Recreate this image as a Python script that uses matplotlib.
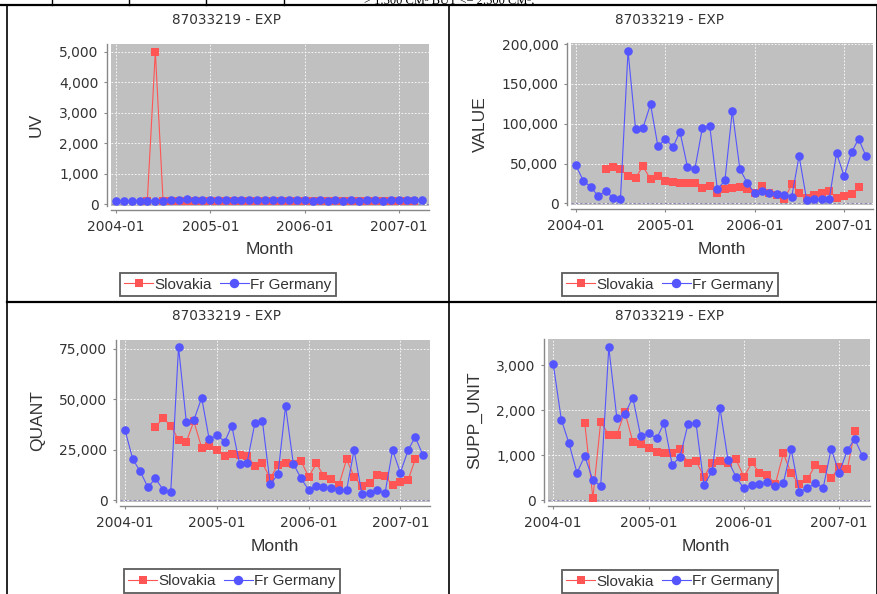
import numpy as np
import pandas as pd
import matplotlib
matplotlib.use("Agg")
import matplotlib.pyplot as plt
import matplotlib.dates as mdates
from matplotlib.ticker import FuncFormatter, FixedLocator

W, H = 878, 594

# ---------------------------------------------------------------------------
# data
# ---------------------------------------------------------------------------
months = pd.date_range("2004-01-01", periods=40, freq="MS")
series_names = ["Slovakia", "Fr Germany"]
chart_title = "87033219 - EXP"
header_text = "> 1.500 CM³ BUT <= 2.500 CM³;"
nan = np.nan

uv_slovakia = [nan, nan, nan, nan, 120, 5000, 120, 110, 110, 115, 110, 105, 110, 105,
               110, 110, 105, 100, 105, 100, 100, 105, 100, 100, 95, 100, 95, 95,
               90, 100, 95, 90, 95, 95, 100, 90, 95, 100, 105, nan]
uv_germany = [100, 110, 100, 105, 110, 115, 120, 150, 150, 155, 150, 140, 145, 140,
              150, 145, 140, 150, 145, 130, 140, 150, 140, 130, 125, 120, 125, 120,
              125, 120, 140, 120, 125, 125, 120, 140, 145, 150, 150, 145]

value_slovakia = [nan, nan, nan, nan, 42700, 46000, 43000, 34400, 32500, 46500, 30500,
                  35000, 28500, 26500, 25500, 25500, 25500, 19700, 22000, 13000, 18500,
                  19500, 20500, 17600, 12600, 21800, 13400, 10000, 5000, 23900, 13400,
                  7100, 10500, 13400, 15500, 7100, 9200, 11300, 20500, nan]
value_germany = [47800, 28000, 21000, 9200, 15500, 7100, 5000, 191500, 93000, 95000,
                 124500, 72000, 81000, 71000, 90000, 46000, 43000, 95000, 97000, 17600,
                 29000, 116000, 43000, 26000, 12600, 16000, 13400, 12000, 11000, 8400,
                 59500, 4200, 5000, 5900, 5000, 63000, 34400, 64500, 81000, 59000]

quant_slovakia = [nan, nan, nan, nan, 36400, 40500, 36900, 29800, 28900, 39000, 26000,
                  27000, 24800, 21800, 23000, 22500, 22000, 17000, 18200, 10900, 17400,
                  18200, 18000, 19500, 11600, 18200, 12200, 10300, 7400, 20200, 11600,
                  6900, 8300, 12700, 12000, 7400, 9100, 10000, 20200, nan]
quant_germany = [34700, 20200, 14400, 6400, 10800, 5100, 4000, 75800, 38700, 39600,
                 50700, 30200, 32200, 29000, 36800, 18000, 18600, 38200, 39000, 7800,
                 12900, 46500, 18000, 11000, 5000, 7100, 6500, 6000, 5000, 5000,
                 24800, 3000, 3600, 4800, 3500, 24800, 13600, 24800, 31300, 22300]

supp_slovakia = [nan, nan, nan, nan, 1707, 52, 1745, 1447, 1447, 1967, 1299, 1250, 1150,
                 1076, 1039, 1054, 1128, 817, 876, 520, 831, 868, 831, 906, 520, 839,
                 609, 557, 356, 1039, 594, 356, 460, 780, 683, 483, 742, 683, 1537, nan]
supp_germany = [3030, 1790, 1270, 609, 980, 445, 315, 3393, 1819, 1910, 2280, 1425, 1485,
                1373, 1722, 780, 965, 1700, 1722, 334, 640, 2050, 885, 520, 260, 345,
                352, 408, 312, 386, 1132, 186, 270, 371, 282, 1140, 609, 1105, 1360, 972]

# ---------------------------------------------------------------------------
# style
# ---------------------------------------------------------------------------
plt.rcParams['font.family'] = ['Liberation Sans', 'DejaVu Sans']
WIDE = ['DejaVu Sans']          # the tick labels and titles are set in a wide face
RED = '#FF5555'
BLUE = '#5555FF'
PLOT_BG = '#C0C0C0'
AXIS_GRAY = '#888888'
TEXT = '#333333'

fig = plt.figure(figsize=(W / 100, H / 100), dpi=100)
fig.patch.set_facecolor('white')

# pixel canvas for table borders, titles
bg = fig.add_axes([0, 0, 1, 1])
bg.set_xlim(0, W)
bg.set_ylim(H, 0)
bg.axis('off')

# table borders (the page table the charts sit in)
bg.plot([0, W], [5, 5], color='black', lw=1.6)
for xv in [52, 129, 206, 284]:
    bg.plot([xv, xv], [0, 5], color='black', lw=1.0)
bg.plot([7, 7], [5, H], color='black', lw=1.2)
bg.plot([449.5, 449.5], [5, H], color='black', lw=1.2)
bg.plot([877, 877], [5, H], color='black', lw=1.2)
bg.plot([7, 877], [301.5, 301.5], color='black', lw=1.6)
bg.text(449, 0.5, header_text, ha='center', va='center', fontsize=9,
        family=['Liberation Serif', 'DejaVu Serif'], color='black')


def fmt_thousands(v, pos):
    return f"{int(round(v)):,}"


def draw_panel(rect, ylabel, sk, de, yticks, ylim, title_xy, ylabel_xy, xlabel_xy, legend_xy):
    x0, y0, x1, y1 = rect
    ax = fig.add_axes([x0 / W, 1 - y1 / H, (x1 - x0) / W, (y1 - y0) / H])
    ax.set_facecolor(PLOT_BG)

    ax.plot(months, sk, color=RED, marker='s', ms=5.8, lw=0.8, mew=0,
            label=series_names[0], zorder=3)
    ax.plot(months, de, color=BLUE, marker='o', ms=6.2, lw=0.8, mew=0,
            label=series_names[1], zorder=4)

    ax.set_xlim(months[0] - pd.Timedelta(days=20), months[-1] + pd.Timedelta(days=28))
    ax.set_ylim(*ylim)
    ax.xaxis.set_major_locator(mdates.YearLocator())
    ax.xaxis.set_major_formatter(mdates.DateFormatter('%Y-%m'))
    ax.yaxis.set_major_locator(FixedLocator(yticks))
    ax.yaxis.set_major_formatter(FuncFormatter(fmt_thousands))

    ax.grid(True, color='white', linestyle=(0, (2, 2)), lw=0.6, zorder=1)
    ax.axhline(0, color='#8a8ab4', linestyle=(0, (2, 2)), lw=0.8, zorder=2)
    ax.set_axisbelow(True)

    for side in ['top', 'right']:
        ax.spines[side].set_visible(False)
    for side in ['left', 'bottom']:
        ax.spines[side].set_position(('outward', 3))
        ax.spines[side].set_color(AXIS_GRAY)
        ax.spines[side].set_linewidth(1.0)
    ax.tick_params(direction='out', length=2, width=0.8, color=AXIS_GRAY,
                   labelsize=10, labelcolor=TEXT)
    ax.tick_params(axis='x', pad=5)
    ax.tick_params(axis='y', pad=4)
    for lab in ax.get_xticklabels() + ax.get_yticklabels():
        lab.set_family(WIDE)

    ax.set_ylabel(ylabel, fontsize=12.5, color=TEXT)
    ax.set_xlabel('Month', fontsize=12.5, color=TEXT)
    ax.yaxis.set_label_coords(ylabel_xy[0], ylabel_xy[1], transform=bg.transData)
    ax.xaxis.set_label_coords(xlabel_xy[0], xlabel_xy[1], transform=bg.transData)
    ax.xaxis.label.set_va('center')
    ax.yaxis.label.set_va('center')

    bg.text(title_xy[0], title_xy[1], chart_title, ha='center', va='center',
            fontsize=9.8, color=TEXT, family=WIDE)

    leg = ax.legend(loc='center', bbox_to_anchor=(legend_xy[0] / W, 1 - legend_xy[1] / H),
                    bbox_transform=fig.transFigure, ncol=2, frameon=True, fancybox=False,
                    fontsize=11, handlelength=1.9, handletextpad=0.1, columnspacing=0.5,
                    borderpad=0.3, borderaxespad=0, markerscale=1.1)
    frame = leg.get_frame()
    frame.set_edgecolor('#333333')
    frame.set_linewidth(1.3)
    for txt in leg.get_texts():
        txt.set_color(TEXT)
    return ax


draw_panel((111, 44, 429, 206), 'UV', uv_slovakia, uv_germany,
           [0, 1000, 2000, 3000, 4000, 5000], (-60, 5250),
           (227, 20), (36, 125), (270, 250), (228, 284.5))
draw_panel((571, 43, 873, 205), 'VALUE', value_slovakia, value_germany,
           [0, 50000, 100000, 150000, 200000], (-2000, 201500),
           (670, 20), (480, 124), (722, 250), (670, 284.5))
draw_panel((120, 340, 430, 502), 'QUANT', quant_slovakia, quant_germany,
           [0, 25000, 50000, 75000], (-900, 79300),
           (227, 316.5), (38, 421), (275, 546.5), (232, 581))
draw_panel((548, 339, 870, 502), 'SUPP_UNIT', supp_slovakia, supp_germany,
           [0, 1000, 2000, 3000], (-40, 3580),
           (670, 316), (475, 420), (706, 546.5), (670, 581.5))

fig.savefig('out.png', dpi=100)
